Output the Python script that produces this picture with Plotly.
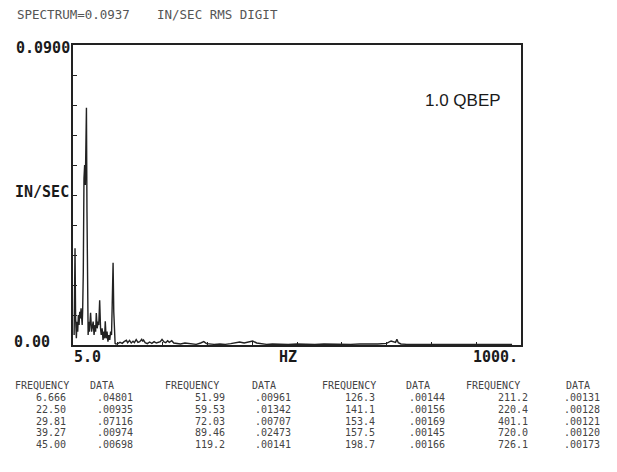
import plotly.graph_objects as go

# ---------------- data ----------------
spec_freq = [2.5, 4.5, 5.8, 7.5, 9.0, 10.5, 12.0, 13.5, 15.0, 16.5, 18.0, 19.5, 20.5, 21.5,
             23.0, 24.5, 26.0, 27.5, 28.8, 30.0, 31.2, 32.5, 33.8, 35.0, 36.5, 37.5, 39.27,
             41.5, 43.0, 45.0, 47.0, 49.0, 50.5, 52.0, 54.0, 56.0, 57.5, 59.53, 61.5, 63.0,
             65.0, 67.0, 69.0, 70.5, 72.03, 74.0, 76.0, 78.0, 80.0, 82.0, 84.0, 86.0, 87.5,
             89.46, 91.0, 92.5, 94.0, 96.0, 100, 105, 110, 114, 119.2, 122, 126.3, 130, 134,
             137, 141.1, 145, 149, 153.4, 155.5, 157.5, 161, 166, 171, 176, 181, 186, 191,
             195, 198.7, 203, 207, 211.2, 215, 220.4, 225, 232, 240, 250, 262, 275, 285, 292,
             298, 305, 315, 328, 340, 352, 362, 372, 382, 392, 401.1, 410, 420, 432, 445, 460,
             480, 500, 520, 540, 560, 580, 600, 620, 640, 660, 680, 700, 710, 720.0, 723,
             726.1, 732, 745, 760, 780, 800, 830, 860, 890, 920, 950, 980, 1000]
spec_val = [0.003, 0.029, 0.008, 0.002, 0.007, 0.004, 0.009, 0.006, 0.010, 0.008, 0.011, 0.009,
            0.006, 0.010, 0.022, 0.050, 0.054, 0.048, 0.060, 0.0712, 0.040, 0.012, 0.003,
            0.007, 0.004, 0.006, 0.0097, 0.004, 0.006, 0.0070, 0.003, 0.006, 0.004, 0.0096,
            0.005, 0.007, 0.006, 0.0134, 0.005, 0.003, 0.005, 0.0015, 0.004, 0.002, 0.0071,
            0.002, 0.004, 0.001, 0.003, 0.0015, 0.004, 0.003, 0.012, 0.0247, 0.010, 0.0025,
            0.0005, 0.0003, 0.0004, 0.0008, 0.0005, 0.0010, 0.0014, 0.0007, 0.0014, 0.0006,
            0.0011, 0.0007, 0.0016, 0.0008, 0.0010, 0.0017, 0.0011, 0.0015, 0.0007, 0.0004,
            0.0009, 0.0005, 0.0010, 0.0006, 0.0008, 0.0010, 0.0017, 0.0009, 0.0007, 0.0013,
            0.0008, 0.0013, 0.0006, 0.0004, 0.0003, 0.0006, 0.0003, 0.0002, 0.0006, 0.0010,
            0.0004, 0.0003, 0.0002, 0.0003, 0.0002, 0.0004, 0.0007, 0.0009, 0.0006, 0.0010,
            0.0012, 0.0006, 0.0004, 0.0002, 0.0003, 0.0002, 0.0002, 0.0003, 0.0002, 0.0002,
            0.0003, 0.0002, 0.0002, 0.0002, 0.0003, 0.0002, 0.0003, 0.0005, 0.0012, 0.0008,
            0.0017, 0.0007, 0.0003, 0.0002, 0.0002, 0.0002, 0.0003, 0.0002, 0.0002, 0.0002,
            0.0002, 0.0002, 0.0002]

title_left = "SPECTRUM=0.0937"
title_right = "IN/SEC RMS DIGIT"
y_top_label = "0.0900"
y_bottom_label = "0.00"
y_unit_label = "IN/SEC"
x_left_label = "5.0"
x_mid_label = "HZ"
x_right_label = "1000."
note_label = "1.0 QBEP"

table_freq_1 = ["6.666", "22.50", "29.81", "39.27", "45.00"]
table_data_1 = [".04801", ".00935", ".07116", ".00974", ".00698"]
table_freq_2 = ["51.99", "59.53", "72.03", "89.46", "119.2"]
table_data_2 = [".00961", ".01342", ".00707", ".02473", ".00141"]
table_freq_3 = ["126.3", "141.1", "153.4", "157.5", "198.7"]
table_data_3 = [".00144", ".00156", ".00169", ".00145", ".00166"]
table_freq_4 = ["211.2", "220.4", "401.1", "720.0", "726.1"]
table_data_4 = [".00131", ".00128", ".00121", ".00120", ".00173"]

# ---------------- layout helpers ----------------
# page body has an 8px margin, so the figure is placed 8px in from the window edge
OFF = 8
W, H = 617 - 2 * OFF, 472 - 2 * OFF
L, R, T, B = 73, 521, 45, 345   # plot frame in window pixels


def px(x):
    return (x - L) / (R - L)


def py(y):
    return (B - y) / (B - T)


MONO = "DejaVu Sans Mono"
fig = go.Figure()
fig.add_trace(go.Scatter(x=spec_freq, y=spec_val, mode="lines",
                         line=dict(color="#222222", width=1.4), showlegend=False,
                         hoverinfo="skip"))

annotations = []


def ann(text, x, y, xanchor="left", size=10, color="#444444", bold=False, family=MONO):
    annotations.append(dict(text=("<b>%s</b>" % text) if bold else text,
                            x=px(x), y=py(y), xref="paper", yref="paper",
                            xanchor=xanchor, yanchor="middle", showarrow=False,
                            font=dict(family=family, size=size, color=color)))


ann(title_left, 15, 15, size=12.5, color="#555555")
ann(title_right, 155, 15, size=12.5, color="#555555")
ann(y_top_label, 14, 48, size=15, color="#1a1a1a", bold=True)
ann(y_unit_label, 13, 192, size=15, color="#1a1a1a", bold=True)
ann(y_bottom_label, 12, 342, size=15, color="#1a1a1a", bold=True)
ann(x_left_label, 72, 357, size=15, color="#1a1a1a", bold=True)
ann(x_mid_label, 288, 357, xanchor="center", size=15, color="#1a1a1a", bold=True)
ann(x_right_label, 520, 357, xanchor="right", size=15, color="#1a1a1a", bold=True)
ann(note_label, 423, 100, size=17, color="#1a1a1a", family="Liberation Sans")

cols = [(table_freq_1, table_data_1, 13, 88, 68, 95),
        (table_freq_2, table_data_2, 163, 250, 227, 253),
        (table_freq_3, table_data_3, 320, 404, 377, 407),
        (table_freq_4, table_data_4, 464, 564, 530, 562)]
row_y = [397.5, 409, 421, 432.5, 444]
for freqs, datas, hx, dx, fr, dl in cols:
    ann("FREQUENCY", hx, 385)
    ann("DATA", dx, 385)
    for i in range(5):
        ann(freqs[i], fr, row_y[i], xanchor="right")
        ann(datas[i], dl, row_y[i])

fig.update_layout(
    width=W, height=H,
    margin=dict(l=L - OFF, r=W + OFF - R, t=T - OFF, b=H + OFF - B, pad=0),
    paper_bgcolor="white", plot_bgcolor="white",
    annotations=annotations,
    xaxis=dict(range=[0, 1000], tick0=0, dtick=100, ticks="inside", ticklen=3,
               tickcolor="#222222", tickwidth=1.2, showticklabels=False,
               showgrid=False, zeroline=False, showline=True, linecolor="#222222",
               linewidth=1.6, mirror=True),
    yaxis=dict(range=[0, 0.09], tick0=0, dtick=0.009, ticks="inside", ticklen=4,
               tickcolor="#222222", tickwidth=1.2, showticklabels=False,
               showgrid=False, zeroline=False, showline=True, linecolor="#222222",
               linewidth=1.6, mirror=True),
)

fig.write_html("out.html")
